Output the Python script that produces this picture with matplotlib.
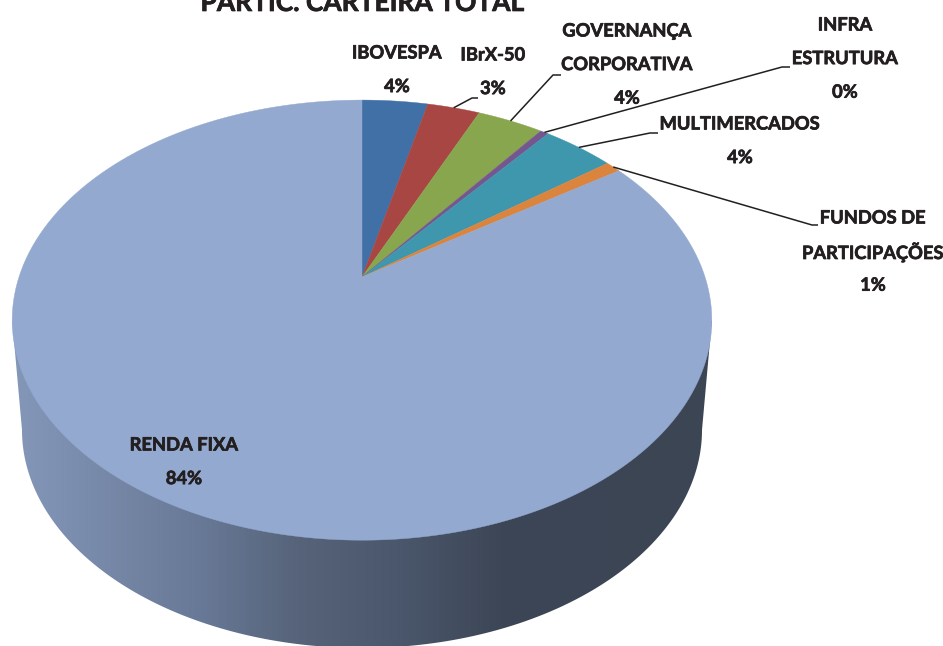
import numpy as np
import matplotlib
matplotlib.use("Agg")
import matplotlib.pyplot as plt
import matplotlib.patheffects as pe
from matplotlib.colors import LinearSegmentedColormap
from matplotlib.patches import Polygon

plt.rcParams['font.family'] = ['Lato', 'DejaVu Sans']
LABEL_SIZE = 13.2
TITLE_SIZE = 19

title = "PARTIC. CARTEIRA TOTAL"
categories = ["IBOVESPA", "IBrX-50", "GOVERNANÇA\nCORPORATIVA", "INFRA\nESTRUTURA",
              "MULTIMERCADOS", "FUNDOS DE\nPARTICIPAÇÕES", "RENDA FIXA"]
values = [3.67, 2.93, 3.7, 0.45, 4.0, 0.85, 84.4]
pct_labels = ["4%", "3%", "4%", "0%", "4%", "1%", "84%"]
colors = ["#4170a6", "#a84643", "#88a64e", "#75578f", "#3f97ae", "#db843d", "#93a9cf"]

label_x = [397, 493, 627, 845, 740, 873, 184]
label_top = [53, 55, 31, 25, 124, 218, 445]
LINE_STEP = 33.6
elbows = [None, [(472, 98), (478, 98)], [(553, 75), (561, 75)], [(782, 67), (790, 67)],
          [(650, 133), (658, 133)], [(812, 225), (818, 225)], None]

CX, CY, A, B, K = 362, 277, 343, 211.6, 0.196
BOT_CY, BOT_RX, BOT_RY = 430, 340, 218


def project(theta):
    """Clockwise angle from 12 o'clock on the disc -> picture coordinates, with perspective."""
    x, y = np.sin(theta), np.cos(theta)
    w = 1 + K * y
    return CX + A * x / w, CY - B * y / w


fig = plt.figure(figsize=(9.43, 6.46), dpi=100, facecolor="white")
ax = fig.add_axes([0, 0, 1, 1])

# side wall: gradient clipped to the hull of top rim and lower rim
t = np.linspace(0, 2 * np.pi, 721)
tx, ty = project(t)
left_i, right_i = np.argmin(tx), np.argmax(tx)
ang = np.linspace(np.pi, 0, 361)
bx = CX + BOT_RX * np.cos(ang)
by = BOT_CY + BOT_RY * np.sin(ang)
wall = np.column_stack([np.r_[tx[left_i], bx, tx[right_i]],
                        np.r_[ty[left_i], by, ty[right_i]]])
cmap = LinearSegmentedColormap.from_list("wall", [
    (0.0, "#8497b8"), (0.06, "#7e91b2"), (0.17, "#7384a3"), (0.27, "#687997"), (0.41, "#566379"),
    (0.55, "#4b576c"), (0.70, "#3c4656"), (1.0, "#3b4554")])
grad = np.linspace(0, 1, 512).reshape(1, -1)
im = ax.imshow(grad, cmap=cmap, extent=(12, 712, 660, 300), aspect="auto", zorder=1)
clip = Polygon(wall, closed=True, transform=ax.transData, fc="none", ec="none")
ax.add_patch(clip)
im.set_clip_path(clip)

# top face
edges = np.r_[0, np.cumsum(values)] / np.sum(values) * 2 * np.pi
for i, c in enumerate(colors):
    th = np.linspace(edges[i], edges[i + 1], max(4, int(values[i] * 8)))
    px, py = project(th)
    ax.fill(np.r_[CX, px], np.r_[CY, py], color=c, lw=0.3, zorder=2)

# leader lines
for i, e in enumerate(elbows):
    if e is None:
        continue
    sx, sy = project((edges[i] + edges[i + 1]) / 2)
    xs = [sx] + [p[0] for p in e]
    ys = [sy] + [p[1] for p in e]
    ax.plot(xs, ys, color="#231f20", lw=1.1, zorder=3, solid_capstyle="butt")

# labels, line by line
heavy = [pe.withStroke(linewidth=0.5, foreground="#231f20")]
for cat, pct, lx, ly in zip(categories, pct_labels, label_x, label_top):
    for j, line in enumerate(cat.split("\n") + [pct]):
        ax.text(lx, ly + j * LINE_STEP, line, ha="center", va="center", fontsize=LABEL_SIZE,
                fontweight="bold", color="#231f20", zorder=4, path_effects=heavy)

ax.text(362, 11, title, ha="center", va="baseline", fontsize=TITLE_SIZE, fontweight="bold",
        color="#231f20", zorder=4, path_effects=heavy)

ax.set_xlim(0, 943)
ax.set_ylim(646, 0)
ax.axis("off")
fig.savefig("out.png", dpi=100)
